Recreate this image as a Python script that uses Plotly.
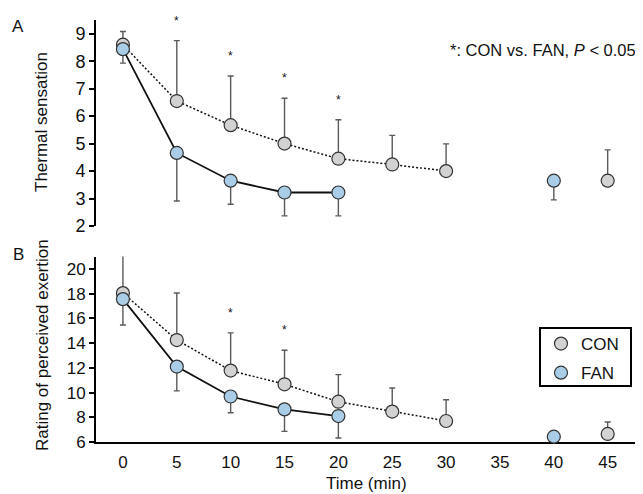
import plotly.graph_objects as go
from plotly.subplots import make_subplots

time_min = [0, 5, 10, 15, 20, 25, 30, 35, 40, 45]
x_ticks = [0, 5, 10, 15, 20, 25, 30, 35, 40, 45]

# Panel A: thermal sensation
con_ts = [8.60, 6.55, 5.67, 5.00, 4.45, 4.24, 4.00, None, None, 3.65]
con_ts_sd = [0.48, 2.20, 1.79, 1.65, 1.42, 1.06, 0.99, 0, 0, 1.12]
fan_ts = [8.44, 4.66, 3.65, 3.22, 3.22, None, None, None, 3.65, None]
fan_ts_sd = [0.51, 1.75, 0.86, 0.85, 0.85, 0, 0, 0, 0.70, 0]
sig_ts_times = [5, 10, 15, 20]

# Panel B: rating of perceived exertion
con_rpe = [18.05, 14.25, 11.78, 10.67, 9.26, 8.46, 7.70, None, None, 6.65]
con_rpe_sd = [3.30, 3.80, 3.05, 2.75, 2.19, 1.91, 1.72, 0, 0, 0.97]
fan_rpe = [17.56, 12.10, 9.68, 8.64, 8.10, None, None, None, 6.43, None]
fan_rpe_sd = [2.09, 1.96, 1.31, 1.78, 1.78, 0, 0, 0, 0, 0]
sig_rpe_times = [10, 15]

CON_FILL = "#d2d2d2"
FAN_FILL = "#a9cde6"
EDGE = "#333333"
ERR = "#5a5a5a"
FONT = "Liberation Sans, Arial, sans-serif"

# page body has an 8px margin; work in window pixels and convert
OFF = 8
W, H = 643 - OFF, 494 - OFF
def px_x(p):
    return (p - OFF) / W
def px_y(p):
    return 1 - (p - OFF) / H

fig = make_subplots(rows=2, cols=1, shared_xaxes=False)

def add_panel(row, con, con_sd, fan, fan_sd):
    fig.add_trace(go.Scatter(
        x=time_min, y=con, mode="lines+markers", connectgaps=False,
        line=dict(color="#111111", width=1.5, dash="2px,2px"),
        marker=dict(size=13, color=CON_FILL, line=dict(color=EDGE, width=1.2)),
        error_y=dict(type="data", symmetric=False, array=con_sd,
                     arrayminus=[0] * len(con_sd), color=ERR, thickness=1.4, width=3),
        showlegend=False, cliponaxis=False), row=row, col=1)
    fig.add_trace(go.Scatter(
        x=time_min, y=fan, mode="lines+markers", connectgaps=False,
        line=dict(color="#111111", width=1.8),
        marker=dict(size=13, color=FAN_FILL, line=dict(color=EDGE, width=1.2)),
        error_y=dict(type="data", symmetric=False, array=[0] * len(fan_sd),
                     arrayminus=fan_sd, color=ERR, thickness=1.4, width=3),
        showlegend=False, cliponaxis=False), row=row, col=1)

add_panel(1, con_ts, con_ts_sd, fan_ts, fan_ts_sd)
add_panel(2, con_rpe, con_rpe_sd, fan_rpe, fan_rpe_sd)

# legend entries
fig.add_trace(go.Scatter(x=[None], y=[None], mode="markers", name="CON", legendgroup="a",
                         marker=dict(size=13, color=CON_FILL, line=dict(color=EDGE, width=1.2))), row=2, col=1)
fig.add_trace(go.Scatter(x=[None], y=[None], mode="markers", name="FAN", legendgroup="b",
                         marker=dict(size=13, color=FAN_FILL, line=dict(color=EDGE, width=1.2))), row=2, col=1)

star_font = dict(size=12, family=FONT, color="#111")
annotations = []
for t in sig_ts_times:
    i = time_min.index(t)
    annotations.append(dict(x=t, y=con_ts[i] + con_ts_sd[i], xref="x", yref="y", text="*",
                            xanchor="center", yanchor="middle",
                            showarrow=False, yshift=20, font=star_font))
for t in sig_rpe_times:
    i = time_min.index(t)
    annotations.append(dict(x=t, y=con_rpe[i] + con_rpe_sd[i], xref="x2", yref="y2", text="*",
                            xanchor="center", yanchor="middle",
                            showarrow=False, yshift=20, font=star_font))

txt_font = dict(size=17, family=FONT, color="#111")
def label(x, y, text, **kw):
    d = dict(x=px_x(x), y=px_y(y), xref="paper", yref="paper", text=text, showarrow=False,
             xanchor="center", yanchor="middle", font=txt_font)
    d.update(kw)
    return d

annotations += [
    label(18, 27, "A"),
    label(18, 255, "B"),
    label(42, 122, "Thermal sensation", textangle=-90),
    label(42, 345, "Rating of perceived exertion", textangle=-90),
    label(367, 483, "Time (min)"),
    label(638, 50, "*: CON vs. FAN, <i>P</i> < 0.05", xanchor="right",
          font=dict(size=16.5, family=FONT, color="#111")),
]

xdom = [px_x(96), px_x(640)]
fig.update_layout(
    width=W, height=H,
    margin=dict(l=0, r=0, t=0, b=0),
    paper_bgcolor="white", plot_bgcolor="rgba(0,0,0,0)",
    font=dict(family=FONT, size=17, color="#111"),
    annotations=annotations,
    shapes=[dict(type="rect", xref="paper", yref="paper",
                 x0=px_x(540), x1=px_x(631), y0=px_y(386), y1=px_y(328),
                 line=dict(color="black", width=2), fillcolor="rgba(0,0,0,0)", layer="above")],
    showlegend=True,
    legend=dict(x=px_x(541), y=px_y(326), xanchor="left", yanchor="top",
                borderwidth=0, bgcolor="rgba(0,0,0,0)",
                font=dict(size=17, family=FONT, color="#111"),
                traceorder="grouped", tracegroupgap=4),
    xaxis=dict(domain=xdom, range=[-2.5, 48], showline=False, showticklabels=False,
               ticks="", showgrid=False, zeroline=False, automargin=False),
    yaxis=dict(domain=[px_y(226), px_y(20)], range=[2, 9.5], tickvals=[2, 3, 4, 5, 6, 7, 8, 9],
               showline=True, linecolor="black", linewidth=2, ticks="outside", ticklen=5,
               tickwidth=2, tickcolor="black", showgrid=False, zeroline=False,
               automargin=False, tickfont=dict(size=18)),
    xaxis2=dict(domain=xdom, range=[-2.5, 48], tickvals=x_ticks, showline=True,
                linecolor="black", linewidth=2, ticks="", showgrid=False, zeroline=False,
                automargin=False, tickfont=dict(size=17), ticklabelstandoff=4,
                layer="below traces"),
    yaxis2=dict(domain=[px_y(442), px_y(256.6)], range=[6, 21], tickvals=[6, 8, 10, 12, 14, 16, 18, 20],
                showline=True, linecolor="black", linewidth=2, ticks="outside", ticklen=5,
                tickwidth=2, tickcolor="black", showgrid=False, zeroline=False,
                automargin=False, tickfont=dict(size=17)),
)

fig.write_html("out.html")
